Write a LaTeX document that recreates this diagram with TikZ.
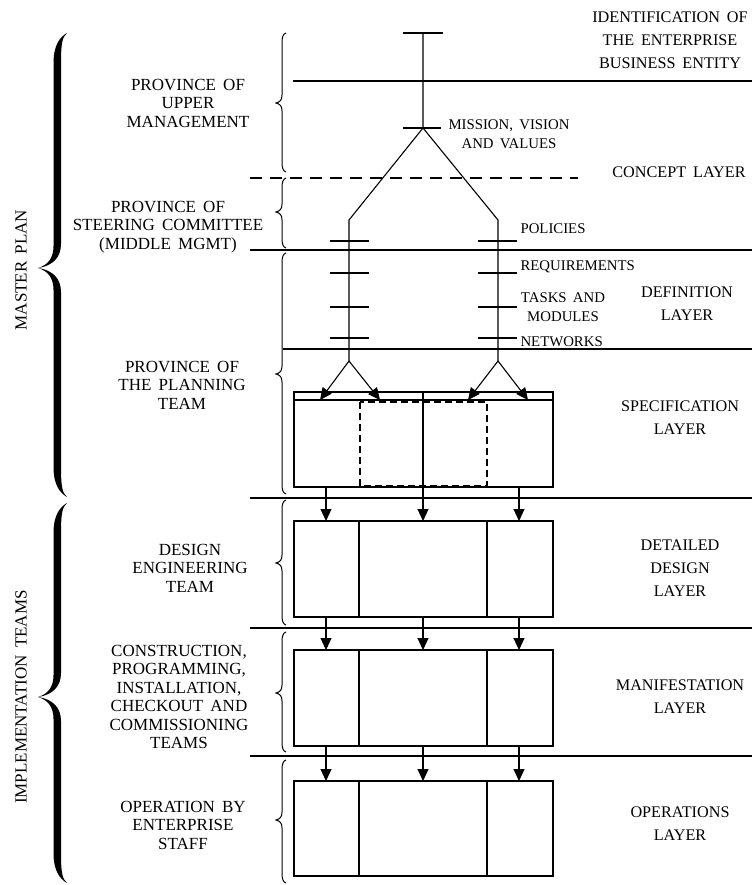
\documentclass[tikz,border=0pt]{standalone}
\usepackage{fontspec}
\setmainfont{Liberation Serif}[WordSpace=1.7]
\usetikzlibrary{arrows.meta}
\newcommand\bigbrace[3]{%
  \fill (67,#1) .. controls (60,#1+4) and (53.5,#1+12) .. (53.5,#1+30) -- (53.5,#2-22)
    .. controls (53.5,#2-10) and (48,#2-3) .. (38,#2)
    .. controls (48,#2+3) and (53.5,#2+10) .. (53.5,#2+22) -- (53.5,#3-30)
    .. controls (53.5,#3-12) and (60,#3-4) .. (67,#3)
    .. controls (62,#3-4) and (61,#3-12) .. (61,#3-30) -- (61,#2+24)
    .. controls (61,#2+10) and (52,#2+2) .. (38,#2)
    .. controls (52,#2-2) and (61,#2-10) .. (61,#2-24) -- (61,#1+30)
    .. controls (61,#1+12) and (62,#1+4) .. (67,#1) -- cycle;}
\newcommand\smbrace[3]{%
  \draw[line width=1pt] (286,#1) .. controls (283,#1+1) and (282,#1+4) .. (282,#1+10) -- (282,#2-8)
    .. controls (282,#2-3) and (280,#2-1) .. (276,#2)
    .. controls (280,#2+1) and (282,#2+3) .. (282,#2+8) -- (282,#3-10)
    .. controls (282,#3-4) and (283,#3-1) .. (286,#3);}
\begin{document}
\begin{tikzpicture}[x=1pt,y=-1pt,line width=1.1pt,
  lbl/.style={align=center,font=\fontsize{17}{18.5}\selectfont,inner sep=0pt},
  rlbl/.style={align=center,font=\fontsize{16.2}{22.8}\selectfont,inner sep=0pt},
  mlbl/.style={font=\fontsize{14.8}{19}\selectfont,inner sep=0pt,anchor=west},
  arr/.style={-{Triangle[length=12pt,width=11pt]}},
  dsh/.style={dash pattern=on 12pt off 8pt},
  fdsh/.style={dash pattern=on 7pt off 4pt},
  box/.style={draw,minimum width=259pt,inner sep=0pt,outer sep=0pt},
  tick/.style={line width=1.1pt}]
\useasboundingbox (0,0) rectangle (752,885);

% big braces and their labels
\bigbrace{33}{268}{497}
\bigbrace{503}{697}{883}
\node[lbl,rotate=90] (mp) at (21,270) {MASTER PLAN};
\node[lbl,rotate=90] (it) at (21,697) {IMPLEMENTATION TEAMS};

% small braces
\smbrace{33}{103}{172}
\smbrace{178}{212}{248}
\smbrace{253}{374}{494}
\smbrace{500}{563}{625}
\smbrace{632}{693}{752}
\smbrace{760}{820}{883}

% left labels
\node[lbl] (um) at (188,103) {PROVINCE OF\\UPPER\\MANAGEMENT};
\node[lbl] (sc) at (168,227) {PROVINCE OF\\STEERING COMMITTEE\\(MIDDLE MGMT)};
\node[lbl] (pt) at (182,385) {PROVINCE OF\\THE PLANNING\\TEAM};
\node[lbl] (de) at (190,568) {DESIGN\\ENGINEERING\\TEAM};
\node[lbl] (ct) at (179,697) {CONSTRUCTION,\\PROGRAMMING,\\INSTALLATION,\\CHECKOUT AND\\COMMISSIONING\\TEAMS};
\node[lbl] (ob) at (183,825) {OPERATION BY\\ENTERPRISE\\STAFF};

% right labels
\node[rlbl] (id) at (670,40) {IDENTIFICATION OF\\THE ENTERPRISE\\BUSINESS ENTITY};
\node[rlbl] (cl) at (679,172) {CONCEPT LAYER};
\node[rlbl] (dl) at (687,304) {DEFINITION\\LAYER};
\node[rlbl] (sl) at (680,418) {SPECIFICATION\\LAYER};
\node[rlbl] (ddl) at (680,568) {DETAILED\\DESIGN\\LAYER};
\node[rlbl] (ml) at (680,697) {MANIFESTATION\\LAYER};
\node[rlbl] (ol) at (680,824) {OPERATIONS\\LAYER};

% separator lines
\draw (293,81) -- (752,81);
\draw[dsh] (250,178) -- (578,178);
\draw (250,250) -- (752,250);
\draw (283,349) -- (752,349);
\draw (250,498) -- (752,498);
\draw (250,628) -- (752,628);
\draw (250,756) -- (752,756);

% tree
\coordinate (t0) at (423,33);
\coordinate (mv) at (423,128);
\coordinate (lb) at (349,220);
\coordinate (rb) at (498,220);
\coordinate (le) at (349,361);
\coordinate (re) at (498,361);
\draw (t0) -- (mv) -- (lb) -- (le);
\draw (mv) -- (rb) -- (re);
\draw[tick] (403,33) -- (443,33);
\draw[tick] (403,128) -- (441,128);
\foreach \yy in {241,273,307,338}{
  \draw[tick] (330,\yy) -- (369,\yy);
  \draw[tick] (478,\yy) -- (517,\yy);
}
\node[mlbl,anchor=center,align=center] (mvv) at (509,134) {MISSION, VISION\\AND VALUES};
\node[mlbl] (pol) at (520,229) {POLICIES};
\node[mlbl] (req) at (520,267) {REQUIREMENTS};
\node[mlbl,anchor=center,align=center] (tam) at (563,307.5) {TASKS AND\\MODULES};
\node[mlbl] (net) at (520,342) {NETWORKS};

% boxes
\node[box,minimum height=95pt] (spec) at (423.5,439.5) {};
\node[box,minimum height=96pt] (det) at (423.5,569) {};
\node[box,minimum height=96pt] (man) at (423.5,698) {};
\node[box,minimum height=95pt] (ops) at (423.5,828.5) {};
\coordinate (c1) at (326,0);
\coordinate (c2) at (423,0);
\coordinate (c3) at (519,0);
\coordinate (d1) at (359,0);
\coordinate (d2) at (487,0);
\coordinate (strip) at (0,400);

% specification box internals
\draw (spec.west |- strip) -- (spec.east |- strip);
\draw[fdsh] (360,402) rectangle (487,486);
\draw (spec.north -| c2) -- (spec.south -| c2);

% arrows from tree into spec strip
\coordinate (s1) at (320,400);
\coordinate (s2) at (380,400);
\coordinate (s3) at (468,400);
\coordinate (s4) at (528,400);
\draw[arr] (le) -- (s1);
\draw[arr] (le) -- (s2);
\draw[arr] (re) -- (s3);
\draw[arr] (re) -- (s4);

% dividers in lower boxes
\foreach \b in {det,man,ops}{
  \draw (\b.north -| d1) -- (\b.south -| d1);
  \draw (\b.north -| d2) -- (\b.south -| d2);
}

% arrows between boxes
\foreach \c in {c1,c2,c3}{
  \draw[arr] (spec.south -| \c) -- (det.north -| \c);
  \draw[arr] (det.south -| \c) -- (man.north -| \c);
  \draw[arr] (man.south -| \c) -- (ops.north -| \c);
}
\end{tikzpicture}
\end{document}
